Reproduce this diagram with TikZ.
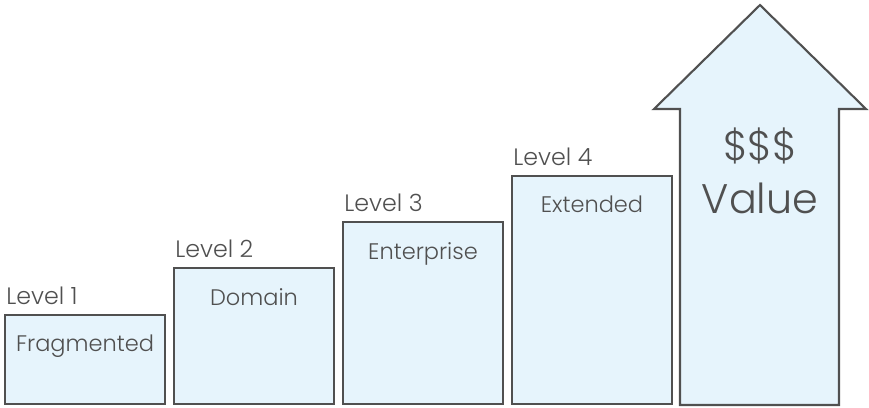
\documentclass[tikz,border=0pt]{standalone}
\usepackage{fontspec}
\IfFontExistsTF{Poppins Light}{\setmainfont{Poppins Light}}{\setmainfont{Poppins}}
\usetikzlibrary{positioning}
\definecolor{boxfill}{HTML}{E6F4FC}
\definecolor{boxline}{HTML}{505050}
\definecolor{txtgray}{HTML}{505050}
\begin{document}
\begin{tikzpicture}[x=0.02cm,y=-0.02cm,
    levelbox/.style={draw=boxline, fill=boxfill, line width=1.2pt, inner sep=0pt,
        minimum width=3.2cm, anchor=south west},
    leveltag/.style={inner sep=0pt, text=txtgray, font=\fontsize{13.5}{15}\selectfont},
    levelname/.style={inner sep=0pt, text=txtgray, font=\fontsize{12.8}{15}\selectfont},
    bigtext/.style={inner sep=0pt, text=txtgray, font=\fontsize{23.5}{28}\selectfont, anchor=base}]
\useasboundingbox (0,0) rectangle (869,407);

\node (b1) [levelbox, minimum height=1.78cm] at (4,405) {};
\node (b2) [levelbox, minimum height=2.72cm] at (173,405) {};
\node (b3) [levelbox, minimum height=3.64cm] at (342,405) {};
\node (b4) [levelbox, minimum height=4.56cm] at (511,405) {};

\node (t1) [leveltag, above right=0.18cm and 0.04cm of b1.north west] {Level 1};
\node (t2) [leveltag, above right=0.18cm and 0.04cm of b2.north west] {Level 2};
\node (t3) [leveltag, above right=0.18cm and 0.04cm of b3.north west] {Level 3};
\node (t4) [leveltag, above right=0.18cm and 0.04cm of b4.north west] {Level 4};

\node (n1) [levelname, below=0.42cm of b1.north] {Fragmented};
\node (n2) [levelname, below=0.42cm of b2.north] {Domain};
\node (n3) [levelname, below=0.42cm of b3.north] {Enterprise};
\node (n4) [levelname, below=0.42cm of b4.north] {Extended};

% value arrow
\coordinate (tip) at (760,5);
\coordinate (hl) at (654,109);
\coordinate (hr) at (866,109);
\coordinate (sl) at (680,109);
\coordinate (sr) at (839,109);
\coordinate (bl) at (680,405);
\coordinate (br) at (839,405);
\draw[draw=boxline, fill=boxfill, line width=1.2pt, line join=miter]
    (tip) -- (hr) -- (sr) -- (br) -- (bl) -- (sl) -- (hl) -- cycle;

\node (dol) [bigtext] at (760,160) {\$\$\$};
\node (val) [bigtext] at (760,213) {Value};

\end{tikzpicture}
\end{document}
